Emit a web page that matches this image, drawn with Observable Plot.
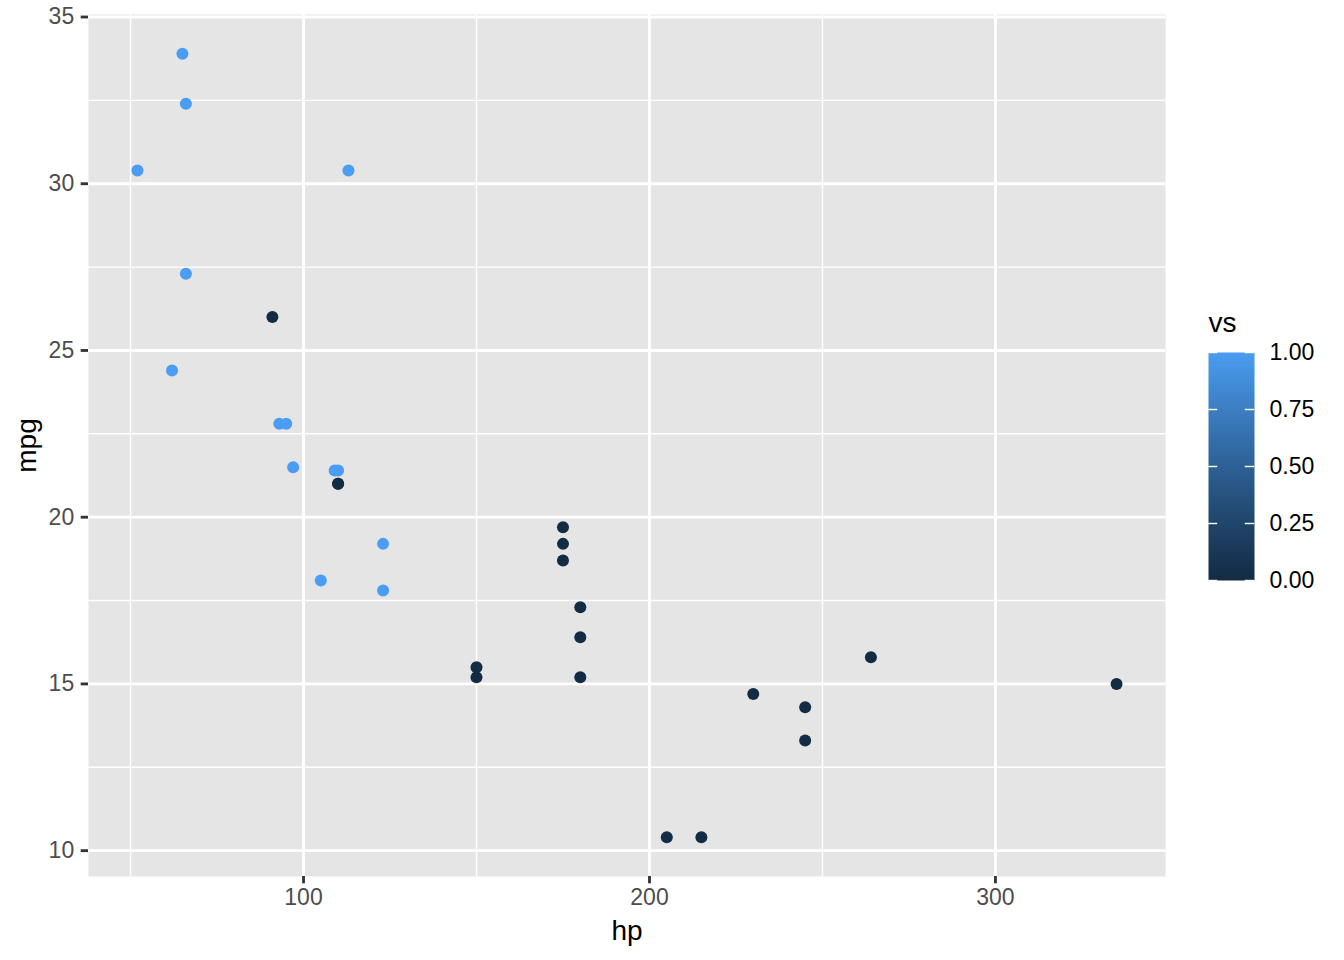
<!DOCTYPE html>
<html>
<head>
<meta charset="utf-8">
<script src="https://cdn.jsdelivr.net/npm/d3@7"></script>
<script src="https://cdn.jsdelivr.net/npm/@observablehq/plot@0.6"></script>
<style>
  body { margin: 0; background: #fff; }
  #chart { position: relative; width: 1344px; height: 960px; font-family: "Liberation Sans", Arial, sans-serif; }
  #legend { position: absolute; left: 1180px; top: 300px; }
</style>
</head>
<body>
<div id="chart"><div id="legend"></div></div>
<script>
// mtcars: hp, mpg, vs
const hp  = [110, 110, 93, 110, 175, 105, 245, 62, 95, 123, 123, 180, 180, 180, 205, 215, 230, 66, 52, 65, 97, 150, 150, 245, 175, 66, 91, 113, 264, 175, 335, 109];
const mpg = [21, 21, 22.8, 21.4, 18.7, 18.1, 14.3, 24.4, 22.8, 19.2, 17.8, 16.4, 17.3, 15.2, 10.4, 10.4, 14.7, 32.4, 30.4, 33.9, 21.5, 15.5, 15.2, 13.3, 19.2, 27.3, 26, 30.4, 15.8, 19.7, 15, 21.4];
const vs  = [0, 0, 1, 1, 0, 1, 0, 1, 1, 1, 1, 0, 0, 0, 0, 0, 0, 1, 1, 1, 1, 0, 0, 0, 0, 1, 0, 1, 0, 0, 0, 1];

const xMajor = [100, 200, 300];
const xMinor = [50, 150, 250];
const yMajor = [10, 15, 20, 25, 30, 35];
const yMinor = [12.5, 17.5, 22.5, 27.5, 32.5];
const legendTicks = [0, 0.25, 0.5, 0.75, 1];

const cars = hp.map((h, i) => ({hp: h, mpg: mpg[i], vs: vs[i]}));

const colorScale = {type: "linear", domain: [0, 1], range: ["#132B43", "#4A9DF2"], interpolate: "lab"};
const font = "'Liberation Sans', Arial, sans-serif";

let chart = Plot.plot({
    width: 1344,
    height: 960,
    marginLeft: 88,
    marginRight: 179,
    marginTop: 14,
    marginBottom: 84,
    x: {domain: [37.85, 349.15]},
    y: {domain: [9.225, 35.075]},
    color: colorScale,
    style: {fontFamily: font, background: "#fff", overflow: "visible"},
    marks: [
        Plot.frame({fill: "#E5E5E5", stroke: null}),
        Plot.gridX(xMinor, {stroke: "#fff", strokeOpacity: 1, strokeWidth: 1.42}),
        Plot.gridY(yMinor, {stroke: "#fff", strokeOpacity: 1, strokeWidth: 1.42}),
        Plot.gridX(xMajor, {stroke: "#fff", strokeOpacity: 1, strokeWidth: 2.84}),
        Plot.gridY(yMajor, {stroke: "#fff", strokeOpacity: 1, strokeWidth: 2.84}),
        Plot.axisX(xMajor, {
            tickSize: 7.3, tickPadding: 5, stroke: "#333333", strokeWidth: 2.84,
            fill: "#4D4D4D", fontSize: 23,
            label: "hp", labelAnchor: "center", labelArrow: "none", labelOffset: 63
        }),
        Plot.axisY(yMajor, {
            tickSize: 7.3, tickPadding: 7, stroke: "#333333", strokeWidth: 2.84,
            fill: "#4D4D4D", fontSize: 23,
            label: "mpg", labelAnchor: "center", labelArrow: "none", labelOffset: 72
        }),
        Plot.dot(cars, {x: "hp", y: "mpg", fill: "vs", r: 6})
    ]
});

// tick labels and axis titles sized like the ggplot theme
d3.select(chart).selectAll("g[aria-label='x-axis tick label'] text, g[aria-label='y-axis tick label'] text")
    .attr("font-size", 23);
d3.select(chart).selectAll("g[aria-label='x-axis label'] text, g[aria-label='y-axis label'] text")
    .attr("fill", "black").attr("font-size", 28);

d3.select("#chart").insert(() => chart, "#legend");

let legend = Plot.plot({
    width: 150,
    height: 300,
    marginLeft: 28,
    marginRight: 76,
    marginTop: 52,
    marginBottom: 20,
    x: {domain: [0, 1], axis: null},
    y: {domain: [0, 1], axis: null},
    color: colorScale,
    style: {fontFamily: font, background: "transparent", overflow: "visible"},
    marks: [
        Plot.raster({x1: 0, x2: 1, y1: 0, y2: 1, width: 1, height: 228, fill: (x, y) => y, imageRendering: "auto"}),
        Plot.ruleY(legendTicks, {x1: 0, x2: 0.2, stroke: "#fff", strokeWidth: 1.4}),
        Plot.ruleY(legendTicks, {x1: 0.8, x2: 1, stroke: "#fff", strokeWidth: 1.4}),
        Plot.axisY(legendTicks, {
            anchor: "right", tickSize: 0, stroke: "none", tickPadding: 15, tickFormat: d3.format(".2f"),
            fill: "black", fontSize: 23, label: null
        }),
        Plot.text(["vs"], {frameAnchor: "top-left", dy: -40, textAnchor: "start", fontSize: 28, fill: "black"})
    ]
});
d3.select(legend).selectAll("g[aria-label='y-axis tick label'] text").attr("font-size", 23);
d3.select("#legend").append(() => legend);
</script>
</body>
</html>
